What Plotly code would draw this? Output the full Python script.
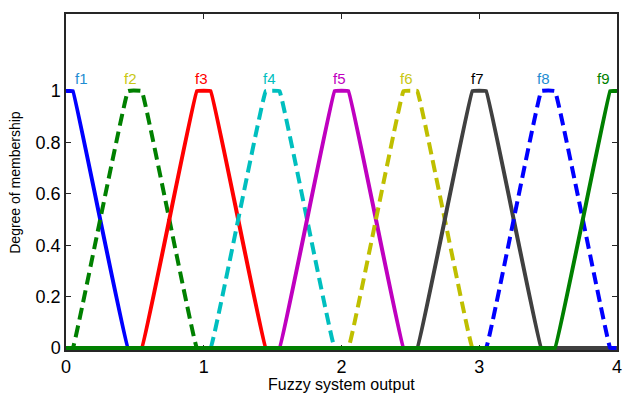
import plotly.graph_objects as go

# Trapezoid membership functions: feet/shoulders (x), clipped to [0, 4]
names = ["f1", "f2", "f3", "f4", "f5", "f6", "f7", "f8", "f9"]
left_foot = [-0.45, 0.05, 0.55, 1.05, 1.55, 2.05, 2.55, 3.05, 3.55]
left_shoulder = [-0.05, 0.45, 0.95, 1.45, 1.95, 2.45, 2.95, 3.45, 3.95]
right_shoulder = [0.05, 0.55, 1.05, 1.55, 2.05, 2.55, 3.05, 3.55, 4.05]
right_foot = [0.45, 0.95, 1.45, 1.95, 2.45, 2.95, 3.45, 3.95, 4.45]
line_colors = ["#0000FF", "#008000", "#FF0000", "#00BFBF", "#BF00BF",
               "#BFBF00", "#404040", "#0000FF", "#008000"]
label_colors = ["#1E8CD2", "#C8C814", "#FF0000", "#00BFBF", "#BF00BF",
                "#C8C814", "#000000", "#1E8CD2", "#008000"]
dashed = [False, True, False, True, False, True, False, True, False]
label_x = [0.11, 0.47, 0.985, 1.48, 1.985, 2.47, 2.985, 3.47, 3.9]
label_y = 1.05
x_ticks = [0, 1, 2, 3, 4]
y_ticks = [0, 0.2, 0.4, 0.6, 0.8, 1]
y_tick_text = ["0", "0.2", "0.4", "0.6", "0.8", "1"]
X_MIN, X_MAX = 0, 4
Y_MIN, Y_MAX = -0.008, 1.3


def trap_val(x, a, b, c, d):
    if x < a or x > d:
        return 0.0
    if b <= x <= c:
        return 1.0
    if x < b:
        return (x - a) / (b - a)
    return (d - x) / (d - c)


# common grid of all breakpoints inside the axis range
grid = sorted(set([X_MIN, X_MAX] + [v for arr in (left_foot, left_shoulder, right_shoulder, right_foot)
                                     for v in arr if X_MIN <= v <= X_MAX]))

fig = go.Figure()
for i, n in enumerate(names):
    a, b, c, d = left_foot[i], left_shoulder[i], right_shoulder[i], right_foot[i]
    ys = [trap_val(v, a, b, c, d) for v in grid]
    fig.add_trace(go.Scatter(
        x=grid, y=ys, mode="lines", name=n, showlegend=False,
        line=dict(color=line_colors[i], width=4,
                  dash="12px,6px" if dashed[i] else "solid",
                  shape="spline", smoothing=0.15),
    ))
    fig.add_annotation(x=label_x[i], y=label_y, text=n, showarrow=False,
                       font=dict(family="Liberation Sans, Arial", size=15,
                                 color=label_colors[i]),
                       xanchor="center", yanchor="middle")

fig.add_annotation(x=0.5, y=-0.103, xref="paper", yref="paper",
                   text="Fuzzy system output", showarrow=False,
                   font=dict(family="Liberation Sans, Arial", size=16, color="#000"),
                   xanchor="center", yanchor="middle")
fig.add_annotation(x=-0.093, y=0.5, xref="paper", yref="paper",
                   text="Degree of membership", showarrow=False, textangle=-90,
                   font=dict(family="Liberation Sans, Arial", size=14, color="#000"),
                   xanchor="center", yanchor="middle")

axis_common = dict(showline=True, linecolor="#262626", linewidth=1.5, mirror="ticks",
                   ticks="inside", ticklen=5, tickcolor="#262626", showgrid=False,
                   zeroline=False, ticklabeloverflow="allow", layer="below traces",
                   tickfont=dict(family="Liberation Sans, Arial", size=18, color="#000"))
fig.update_layout(
    width=625, height=393,
    margin=dict(l=66, r=3, t=14, b=43),
    paper_bgcolor="white", plot_bgcolor="white",
    xaxis=dict(range=[X_MIN, X_MAX], tickvals=x_ticks, **axis_common),
    yaxis=dict(range=[Y_MIN, Y_MAX], tickvals=y_ticks, ticktext=y_tick_text, **axis_common),
)
fig.write_html("out.html")
